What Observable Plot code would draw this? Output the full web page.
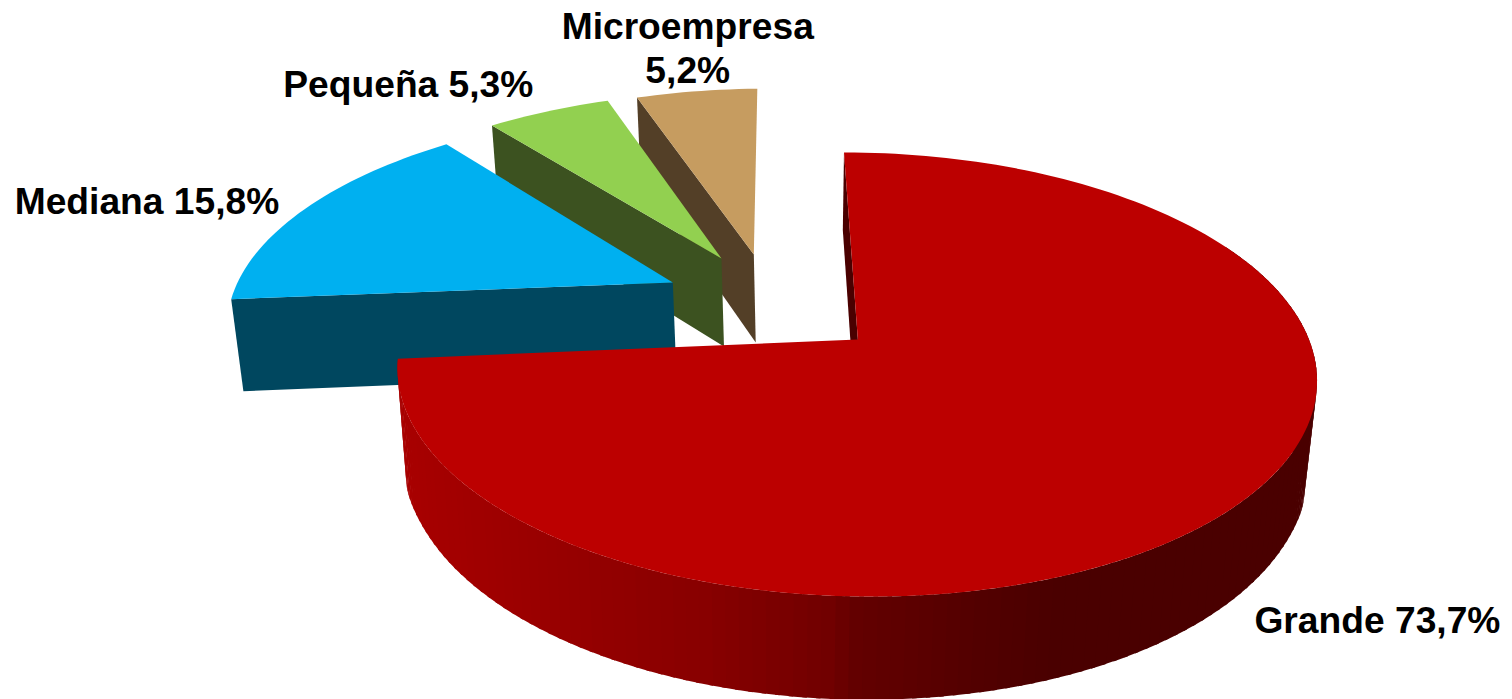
<!DOCTYPE html>
<html><head><meta charset="utf-8">
<script src="https://cdn.jsdelivr.net/npm/d3@7"></script>
<script src="https://cdn.jsdelivr.net/npm/@observablehq/plot@0.6"></script>
<style>html,body{margin:0;padding:0;background:#fff}svg{display:block}</style>
</head><body><div id="chart"></div>
<script>
// Data, clockwise from 12 o'clock
const categories = ["Grande", "Mediana", "Pequeña", "Microempresa"];
const shares = [73.7, 15.8, 5.3, 5.2];
const shareLabels = ["73,7%", "15,8%", "5,3%", "5,2%"];
const labelSeparators = [" ", " ", " ", "\n"];

// Style
const topColors = ["#bc0000", "#00b0f0", "#92d050", "#c69c60"];
const cutColors = ["#4a0000", "#00475f", "#3c5220", "#533f27"];

// Camera of the 3D pie and the explosion of each slice (ground-plane units, radius = 1)
const cam = {u0: 856, v0: 339, f: 2534, d: 5.58, elev: Math.asin(0.4766)};
const explodeX = [0.003, -0.422, -0.316, -0.241];
const explodeY = [0, 0.275, 0.398, 0.418];
const yawDeg = [-2.5, -0.1, -1.6, -1.5];
const spanScale = [1, 0.979, 1, 1];
const tiltDeg = [1.05, 0, 0, 0];
const cutH = [0.22, 0.24, 0.235, 0.235];
const labelDx = [136, -158, -140, -9];
const labelDy = [117, -9, -28, -44];

const rad = Math.PI / 180, S = Math.sin(cam.elev), C = Math.cos(cam.elev);
function project(i, X, Y, Z) {
  const wx = X + explodeX[i], wy = Y + explodeY[i];
  const depth = cam.d + wy * C - Z * S;
  const u = cam.f * wx / depth, v = -cam.f * (wy * S + Z * C) / depth;
  const t = tiltDeg[i] * rad;
  return {x: cam.u0 + u * Math.cos(t) - v * Math.sin(t), y: cam.v0 + u * Math.sin(t) + v * Math.cos(t)};
}
const rim = (i, a, Z) => project(i, Math.sin(a * rad), Math.cos(a * rad), Z);
// The large slice's wall is a little deeper towards its two sides
const wallDepth = a => 0.236 + 0.08 * Math.pow(Math.abs(Math.sin(a * rad)), 40);

// Red wall shading follows the horizontal position on the picture
const wallShade = d3.scaleLinear()
  .domain([400, 530, 700, 830, 850, 950, 1050])
  .range(["#a80000", "#9a0000", "#880000", "#700000", "#640000", "#560000", "#4a0000"])
  .clamp(true);

const polys = [];
let id = 0;
const add = (pts, c) => { const k = id++; for (const p of pts) polys.push({...p, k, c}); };

let acc = 0;
const total = d3.sum(shares);
const spans = shares.map((s, i) => {
  const a0 = acc / total * 360 + yawDeg[i], a1 = a0 + s / total * 360 * spanScale[i];
  acc += s;
  return [a0, a1];
});

for (const i of [3, 2, 1, 0]) {
  const [a0, a1] = spans[i];
  const n = Math.ceil((a1 - a0) / 1.5);
  const angles = d3.range(n + 1).map(j => a0 + (a1 - a0) * j / n);
  const h = cutH[i];
  // the curved wall: only the large slice shows it, from the front
  if (i === 0) {
    for (let j = 0; j < n; j++) {
      const p = angles[j], q = Math.min(angles[j + 1] + 0.5, a1);
      if (p < 60) continue;
      const a = rim(i, p, 0), b = rim(i, q, 0);
      add([a, b, rim(i, q, -wallDepth(q)), rim(i, p, -wallDepth(p))], wallShade((a.x + b.x) / 2));
    }
  }
  // the cut face at the start of the slice
  add([project(i, 0, 0, 0), rim(i, a0, 0), rim(i, a0, -h), project(i, 0, 0, -h)], cutColors[i]);
  // top
  add([project(i, 0, 0, 0), ...angles.map(a => rim(i, a, 0))], topColors[i]);
}

const labels = categories.map((name, i) => {
  const [a0, a1] = spans[i];
  return {...rim(i, (a0 + a1) / 2, 0), text: name + labelSeparators[i] + shareLabels[i], i};
});

const chart = Plot.plot({
  width: 1512, height: 699, margin: 0,
  x: {domain: [0, 1512], range: [0, 1512], axis: null},
  y: {domain: [0, 699], range: [0, 699], axis: null},
  color: {type: "identity"},
  marks: [
    Plot.line(polys, {x: "x", y: "y", z: "k", fill: "c", stroke: "none", curve: "linear"}),
    ...labels.map(l => Plot.text([l], {
      x: "x", y: "y", text: "text", dx: labelDx[l.i], dy: labelDy[l.i],
      fontSize: 37.2, fontWeight: "bold", fontFamily: "Liberation Sans", fill: "black",
      lineAnchor: "middle", textAnchor: "middle", lineHeight: 1.16
    }))
  ]
});
document.getElementById("chart").append(chart);
</script></body></html>
